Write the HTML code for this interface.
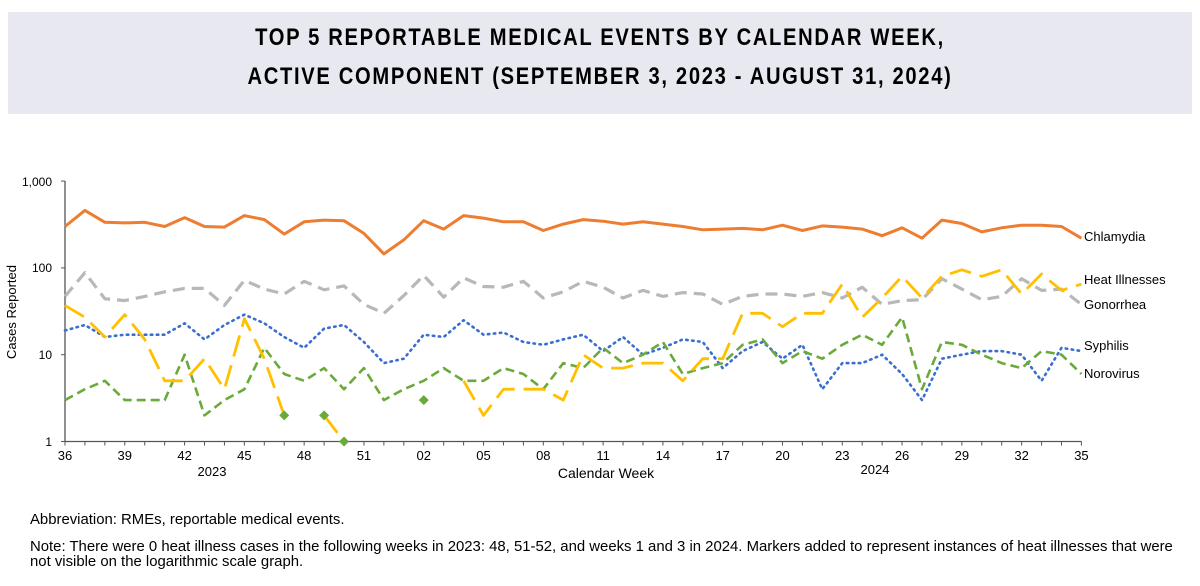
<!DOCTYPE html>
<html><head><meta charset="utf-8"><style>
body{margin:0;background:#fff;width:1200px;height:586px;overflow:hidden;font-family:"Liberation Sans",sans-serif}
.hdr{position:absolute;left:8px;top:12px;width:1184px;height:102px;background:#e8e8f0}
.t{position:absolute;left:0;width:1200px;text-align:center;font-family:"Liberation Sans Narrow","Liberation Sans",sans-serif;font-weight:bold;font-size:24px;letter-spacing:2px;color:#000;transform:scaleX(0.84);transform-origin:600px 0}
.f{position:absolute;left:30px;font-size:14.9px;color:#000;white-space:nowrap}
</style></head><body>
<div class="hdr"></div>
<div class="t" style="top:24px">TOP 5 REPORTABLE MEDICAL EVENTS BY CALENDAR WEEK,</div>
<div class="t" style="top:63px">ACTIVE COMPONENT (SEPTEMBER 3, 2023 - AUGUST 31, 2024)</div>
<svg id="c" width="1200" height="586" style="position:absolute;left:0;top:0" font-family="Liberation Sans, sans-serif" font-size="12">
<g fill="#000">
<text x="52" y="186" text-anchor="end">1,000</text>
<text x="52" y="272" text-anchor="end">100</text>
<text x="52" y="359" text-anchor="end">10</text>
<text x="52" y="446" text-anchor="end">1</text>
<text transform="translate(16,312) rotate(-90)" text-anchor="middle" font-size="13">Cases Reported</text>
<text x="212" y="476" text-anchor="middle" font-size="13">2023</text>
<text x="875" y="474" text-anchor="middle" font-size="13">2024</text>
<text x="606" y="478" text-anchor="middle" font-size="14">Calendar Week</text>
<text x="1084" y="241" font-size="13">Chlamydia</text>
<text x="1084" y="284" font-size="13">Heat Illnesses</text>
<text x="1084" y="309" font-size="13">Gonorrhea</text>
<text x="1084" y="350" font-size="13">Syphilis</text>
<text x="1084" y="378" font-size="13">Norovirus</text>
</g>
<g id="ticks" font-size="13"></g>
<g id="lines"></g>
</svg>
<div class="f" style="top:512px">Abbreviation: RMEs, reportable medical events.</div>
<div class="f" style="top:539px">Note: There were 0 heat illness cases in the following weeks in 2023: 48, 51-52, and weeks 1 and 3 in 2024. Markers added to represent instances of heat illnesses that were</div>
<div class="f" style="top:554px">not visible on the logarithmic scale graph.</div>
<script>
var X0=65,DX=19.93,Y1=441.5,DEC=86.8;
function X(i){return X0+i*DX}function Y(v){return Y1-DEC*Math.log10(v)}
var ns="http://www.w3.org/2000/svg";
function el(t,a,p){var e=document.createElementNS(ns,t);for(var k in a)e.setAttribute(k,a[k]);p.appendChild(e);return e}
var L=document.getElementById('lines'),T=document.getElementById('ticks');
el('line',{x1:X0,y1:181,x2:X0,y2:Y1,stroke:'#555','stroke-width':1.3},T);
el('line',{x1:X0,y1:Y1,x2:X(51),y2:Y1,stroke:'#555','stroke-width':1.3},T);
[1,10,100,1000].forEach(function(v){el('line',{x1:X0-4,y1:Y(v),x2:X0,y2:Y(v),stroke:'#555'},T)});
var wk=[];for(var w=36;w<=52;w++)wk.push(w);for(w=1;w<=35;w++)wk.push(w);
wk.forEach(function(w,i){el('line',{x1:X(i),y1:Y1,x2:X(i),y2:Y1+4,stroke:'#555'},T);
if(i%3==0){var t=el('text',{x:X(i),y:460,'text-anchor':'middle'},T);t.textContent=(w<10?'0':'')+w;}});
var ch=[300,460,335,330,335,300,380,300,295,400,360,245,340,355,350,250,145,210,350,280,400,375,340,340,270,320,360,345,320,340,320,300,275,280,285,275,310,270,305,295,280,235,290,220,355,325,260,290,310,310,300,220];
var go=[47,88,44,42,47,53,58,58,37,72,57,50,70,56,62,38,30,48,82,46,77,61,60,70,45,53,70,60,45,55,47,52,50,38,47,50,50,47,52,45,60,38,42,43,75,57,43,47,75,55,57,38];
var he=[37,27,16,29,15,5,5,9,4,26,9,2,0,2,1,0,0,0,3,0,5,2,4,4,4,3,10,7,7,8,8,5,9,9,30,30,21,30,30,65,27,45,80,45,80,95,80,95,50,85,55,65];
var sy=[19,22,16,17,17,17,23,15,22,29,23,16,12,20,22,14,8,9,17,16,25,17,18,14,13,15,17,11,16,10,12,15,14,7,11,14,9,13,4,8,8,10,6,3,9,10,11,11,10,5,12,11];
var no=[3,4,5,3,3,3,10,2,3,4,12,6,5,7,4,7,3,4,5,7,5,5,7,6,4,8,7,12,8,10,14,6,7,8,13,15,8,11,9,13,17,13,27,4,14,13,10,8,7,11,10,6];
function line(d,s,i0,i1){var p='';for(var i=i0;i<=i1;i++)p+=(i==i0?'M':'L')+X(i).toFixed(1)+','+Y(d[i]).toFixed(1);el('path',Object.assign({d:p,fill:'none','stroke-linejoin':'round'},s),L)}
line(go,{stroke:'#b8b8b8','stroke-width':3.2,'stroke-dasharray':'12,7'},0,51);
line(sy,{stroke:'#3a6fd0','stroke-width':2.6,'stroke-dasharray':'1.5,4.5','stroke-linecap':'round'},0,51);
line(no,{stroke:'#6aaa3a','stroke-width':2.6,'stroke-dasharray':'9,5'},0,51);
var hs={stroke:'#ffc000','stroke-width':2.8,'stroke-dasharray':'22,9'};
line(he,hs,0,11);line(he,hs,13,14);line(he,hs,20,51);
line(ch,{stroke:'#ed7d31','stroke-width':3},0,51);
[[11,2],[13,2],[14,1],[18,3]].forEach(function(m){var x=X(m[0]),y=Y(m[1]);el('path',{d:'M'+x+','+(y-5)+'L'+(x+5)+','+y+'L'+x+','+(y+5)+'L'+(x-5)+','+y+'Z',fill:'#6aaa3a'},L)});
</script>
</body></html>
